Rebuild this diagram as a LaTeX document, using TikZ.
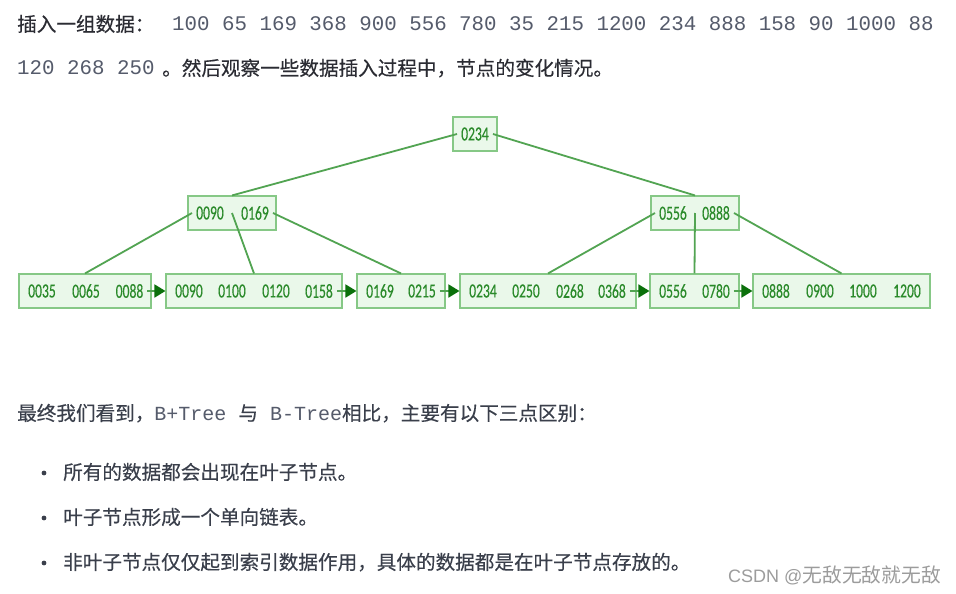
\documentclass[tikz,border=0pt]{standalone}
\usepackage{fontspec}
\newfontfamily\cjk[FakeBold=0.35]{Noto Sans CJK SC}
\newfontfamily\cjkwm{Noto Sans CJK SC}
\newfontfamily\mono{Liberation Mono}
\newfontfamily\keyf[FakeStretch=0.68,FakeBold=0.3]{Carlito}
\newfontfamily\wmf{Liberation Sans}
\usetikzlibrary{arrows.meta}
\definecolor{boxfill}{HTML}{EAF8EA}
\definecolor{boxline}{HTML}{86C886}
\definecolor{edgecol}{HTML}{52A452}
\definecolor{keytext}{HTML}{2A8A2A}
\definecolor{arrowcol}{HTML}{0B700B}
\definecolor{txtone}{HTML}{2B2C33}
\definecolor{numcol}{HTML}{555B6B}
\definecolor{txttwo}{HTML}{3A3F4B}
\definecolor{wmcol}{HTML}{9C9C9C}
\tikzset{
  box/.style={draw=boxline, fill=boxfill, line width=1.1pt, minimum height=34pt, inner sep=0pt, anchor=center},
  key/.style={font=\keyf\fontsize{20}{20}\selectfont, text=keytext, inner xsep=4pt, inner ysep=0pt},
  edge/.style={draw=edgecol, line width=1.8pt},
  link/.style={edge, -{Triangle[length=11pt,width=13pt,color=arrowcol]}},
  cjktxt/.style={anchor=base west, inner sep=0pt, font=\cjk\fontsize{19.6}{20}\selectfont},
  monotxt/.style={anchor=base west, inner sep=0pt, font=\mono\fontsize{20.8}{21}\selectfont, text=numcol}
}
\begin{document}
\begin{tikzpicture}[x=1pt,y=-1pt]
\useasboundingbox[fill=white] (0,0) rectangle (956,594);

% text above
\node[cjktxt, text=txtone] (t1) at (17,31.4) {插入一组数据：};
\node[monotxt] (t2) at (172,30.5) {100 65 169 368 900 556 780 35 215 1200 234 888 158 90 1000 88};
\node[monotxt] (t3) at (17,74.5) {120 268 250};
\node[cjktxt, text=txtone] (t4) at (162,75.4) {。然后观察一些数据插入过程中，节点的变化情况。};

% boxes
\node[box, minimum width=44pt] (root) at (475,134) {};
\node[box, minimum width=88pt] (mL) at (232,213) {};
\node[box, minimum width=88pt] (mR) at (695,213) {};
\node[box, minimum width=132pt] (leafA) at (85,291) {};
\node[box, minimum width=176pt] (leafB) at (254,291) {};
\node[box, minimum width=88pt] (leafC) at (401,291) {};
\node[box, minimum width=176pt] (leafD) at (548,291) {};
\node[box, minimum width=89pt] (leafE) at (694.5,291) {};
\node[box, minimum width=177pt] (leafF) at (841.5,291) {};

% keys
\node[key] (rk) at (475,134) {0234};
\node[key] (mLa) at (210,213) {0090};
\node[key] (mLb) at (255,213) {0169};
\node[key] (mRa) at (673,213) {0556};
\node[key] (mRb) at (716,213) {0888};

\node[key] (a1) at (42,291) {0035};
\node[key] (a2) at (86,291) {0065};
\node[key] (a3) at (129.5,291) {0088};
\node[key] (b1) at (189,291) {0090};
\node[key] (b2) at (232,291) {0100};
\node[key] (b3) at (276,291) {0120};
\node[key] (b4) at (319,291) {0158};
\node[key] (c1) at (380,291) {0169};
\node[key] (c2) at (422,291) {0215};
\node[key] (d1) at (483,291) {0234};
\node[key] (d2) at (526,291) {0250};
\node[key] (d3) at (570,291) {0268};
\node[key] (d4) at (612,291) {0368};
\node[key] (e1) at (673,291) {0556};
\node[key] (e2) at (716,291) {0780};
\node[key] (f1) at (776,291) {0888};
\node[key] (f2) at (820,291) {0900};
\node[key] (f3) at (863,291) {1000};
\node[key] (f4) at (907,291) {1200};

% tree edges
\draw[edge] (rk.west) -- (mL.north);
\draw[edge] (rk.east) -- (mR.north);
\draw[edge] (mLa.west) -- (leafA.north);
\draw[edge] (mL.center) -- (leafB.north);
\draw[edge] (mLb.east) -- (leafC.north);
\draw[edge] (mRa.west) -- (leafD.north);
\draw[edge] (mR.center) -- (leafE.north);
\draw[edge] (mRb.east) -- (leafF.north);

% leaf links
\draw[link] (a3.east) -- (leafB.west);
\draw[link] (b4.east) -- (leafC.west);
\draw[link] (c2.east) -- (leafD.west);
\draw[link] (d4.east) -- (leafE.west);
\draw[link] (e2.east) -- (leafF.west);

% text below
\node[cjktxt, text=txttwo] (s1) at (17,420.4) {最终我们看到，{\mono\fontsize{20}{21}\selectfont\color{numcol}B+Tree\ }与{\mono\fontsize{20}{21}\selectfont\color{numcol}\ B-Tree}相比，主要有以下三点区别：};

\fill[txttwo] (44,473) circle (2.4pt);
\fill[txttwo] (44,518) circle (2.4pt);
\fill[txttwo] (44,563) circle (2.4pt);
\node[cjktxt, text=txttwo] (u1) at (63,479.4) {所有的数据都会出现在叶子节点。};
\node[cjktxt, text=txttwo] (u2) at (63,524.4) {叶子节点形成一个单向链表。};
\node[cjktxt, text=txttwo] (u3) at (63,569.4) {非叶子节点仅仅起到索引数据作用，具体的数据都是在叶子节点存放的。};

\node[anchor=base west, inner sep=0pt, text=wmcol] (wm) at (728,582) {{\wmf\fontsize{18}{18}\selectfont CSDN @}{\cjkwm\fontsize{19.8}{20}\selectfont 无敌无敌就无敌}};
\end{tikzpicture}
\end{document}
